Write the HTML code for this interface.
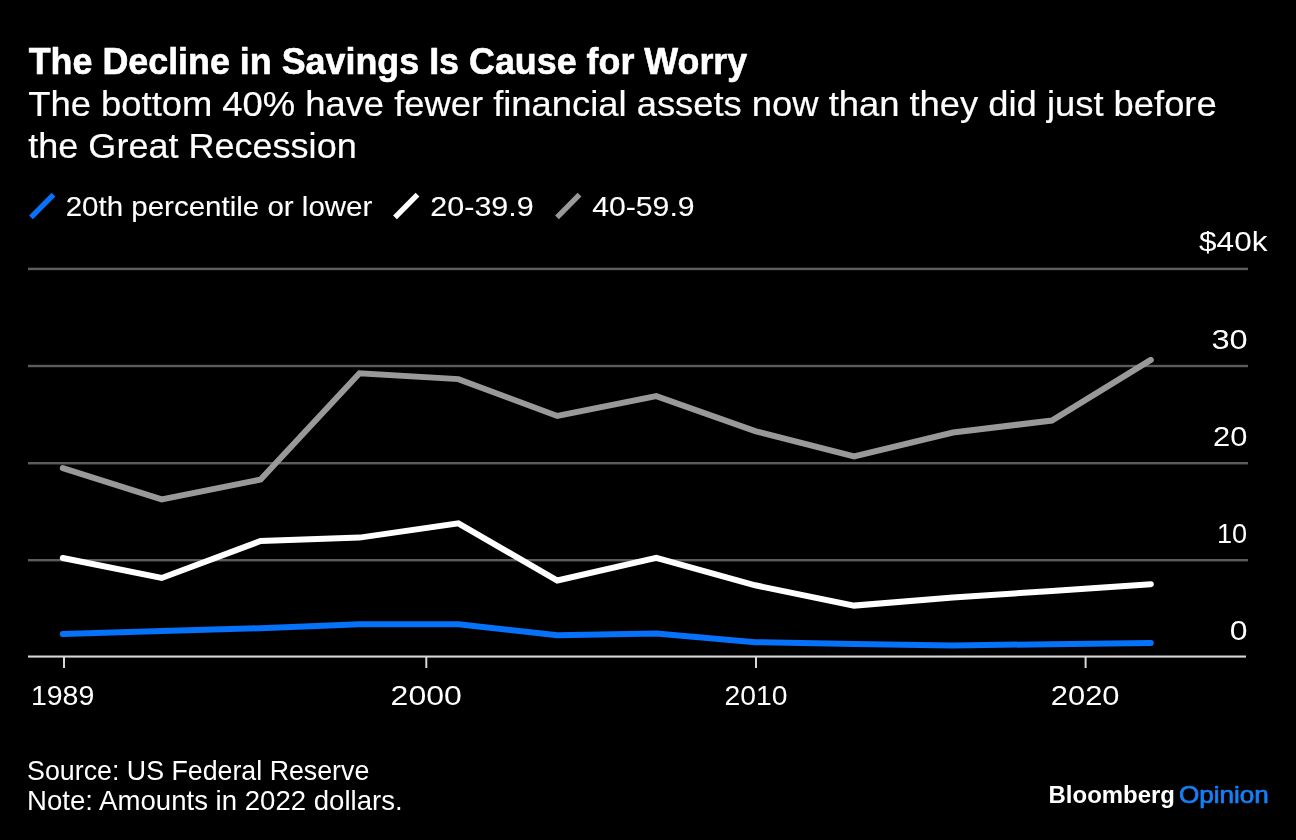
<!DOCTYPE html>
<html lang="en">
<head>
<meta charset="utf-8">
<title>The Decline in Savings Is Cause for Worry</title>
<style>
html,body{margin:0;padding:0;background:#000}
body{width:1296px;height:840px;overflow:hidden}
svg{display:block}
text{font-family:"Liberation Sans", Arial, Helvetica, sans-serif;fill:#fff;stroke-linejoin:round}
.t{font-weight:700;font-size:37px;stroke:#fff;stroke-width:.6px}
.s{font-size:34.5px;stroke:#fff;stroke-width:.2px}
.l{font-size:28.5px;stroke:#fff;stroke-width:.1px}
.a{font-size:28.5px}
.n{font-size:27px}
.b{font-weight:700;font-size:24px}
.o{font-size:24px;fill:#1580f8;stroke:#1580f8;stroke-width:.7px}
</style>
</head>
<body>
<svg width="1296" height="840" viewBox="0 0 1296 840">
<rect width="1296" height="840" fill="#000"/>
<g fill="#5c5c5c">
<rect x="28" y="267.65" width="1220" height="2.5"/>
<rect x="28" y="364.8" width="1220" height="2.4"/>
<rect x="28" y="462" width="1220" height="2.45"/>
<rect x="28" y="559" width="1220" height="2.4"/>
</g>
<g fill="#d8d8d8">
<rect x="28" y="655.5" width="1218" height="2.1"/>
<rect x="63" y="656" width="2" height="12"/>
<rect x="425.3" y="656" width="2" height="12"/>
<rect x="755" y="656" width="2" height="12"/>
<rect x="1084.6" y="656" width="2" height="12"/>
</g>
<line x1="31" y1="217.3" x2="53.5" y2="194.7" stroke="#0672fa" stroke-width="5.4"/>
<line x1="395" y1="217.3" x2="417.5" y2="194.7" stroke="#fff" stroke-width="5.4"/>
<line x1="557" y1="217.3" x2="579.5" y2="194.7" stroke="#999" stroke-width="5.4"/>
<g fill="none" stroke-width="6" stroke-linejoin="miter" stroke-linecap="round">
<polyline stroke="#999" points="62.8,468.2 161.7,499.4 260.6,479.6 359.5,373.3 458.4,379.1 557.3,416.0 656.3,396.1 755.2,431.2 854.1,456.3 953.0,432.5 1051.9,420.5 1150.8,359.9"/>
<polyline stroke="#fff" points="62.8,558.0 161.7,578.0 260.6,541.0 359.5,537.6 458.4,523.4 557.3,580.5 656.3,557.8 755.2,585.3 854.1,605.6 953.0,597.5 1051.9,591.0 1150.8,584.2"/>
<polyline stroke="#0672fa" points="62.8,634.0 161.7,631.0 260.6,628.2 359.5,624.2 458.4,624.2 557.3,635.3 656.3,633.6 755.2,642.2 854.1,644.1 953.0,645.4 1051.9,644.2 1150.8,643.0"/>
</g>
<text class="t" transform="translate(28.68,74.0) scale(0.9694,1)">The Decline in Savings Is Cause for Worry</text>
<text class="s" transform="translate(28.36,115.8) scale(1.0540,1)">The bottom 40% have fewer financial assets now than they did just before</text>
<text class="s" transform="translate(28.28,157.6) scale(1.0447,1)">the Great Recession</text>
<text class="l" transform="translate(65.69,215.6) scale(1.0355,1)">20th percentile or lower</text>
<text class="l" transform="translate(430.35,215.6) scale(1.0699,1)">20-39.9</text>
<text class="l" transform="translate(592.14,215.6) scale(1.0606,1)">40-59.9</text>
<text class="a" transform="translate(1199.10,250.9) scale(1.1060,1)">$40k</text>
<text class="a" transform="translate(1211.39,348.7) scale(1.1432,1)">30</text>
<text class="a" transform="translate(1213.09,445.7) scale(1.0826,1)">20</text>
<text class="a" transform="translate(1217.02,542.9) scale(0.9536,1)">10</text>
<text class="a" transform="translate(1229.71,640.0) scale(1.1219,1)">0</text>
<text class="a" transform="translate(30.91,705.1) scale(0.9994,1)">1989</text>
<text class="a" transform="translate(390.61,705.1) scale(1.1244,1)">2000</text>
<text class="a" transform="translate(724.41,705.1) scale(0.9936,1)">2010</text>
<text class="a" transform="translate(1050.83,705.1) scale(1.0841,1)">2020</text>
<text class="n" transform="translate(27.12,779.6) scale(0.9921,1)">Source: US Federal Reserve</text>
<text class="n" transform="translate(27.04,809.6) scale(1.0221,1)">Note: Amounts in 2022 dollars.</text>
<text class="b" transform="translate(1048.58,803.4) scale(0.9975,1)">Bloomberg</text>
<text class="o" transform="translate(1179.00,803.4) scale(1.0866,1)">Opinion</text>
</svg>
</body>
</html>
